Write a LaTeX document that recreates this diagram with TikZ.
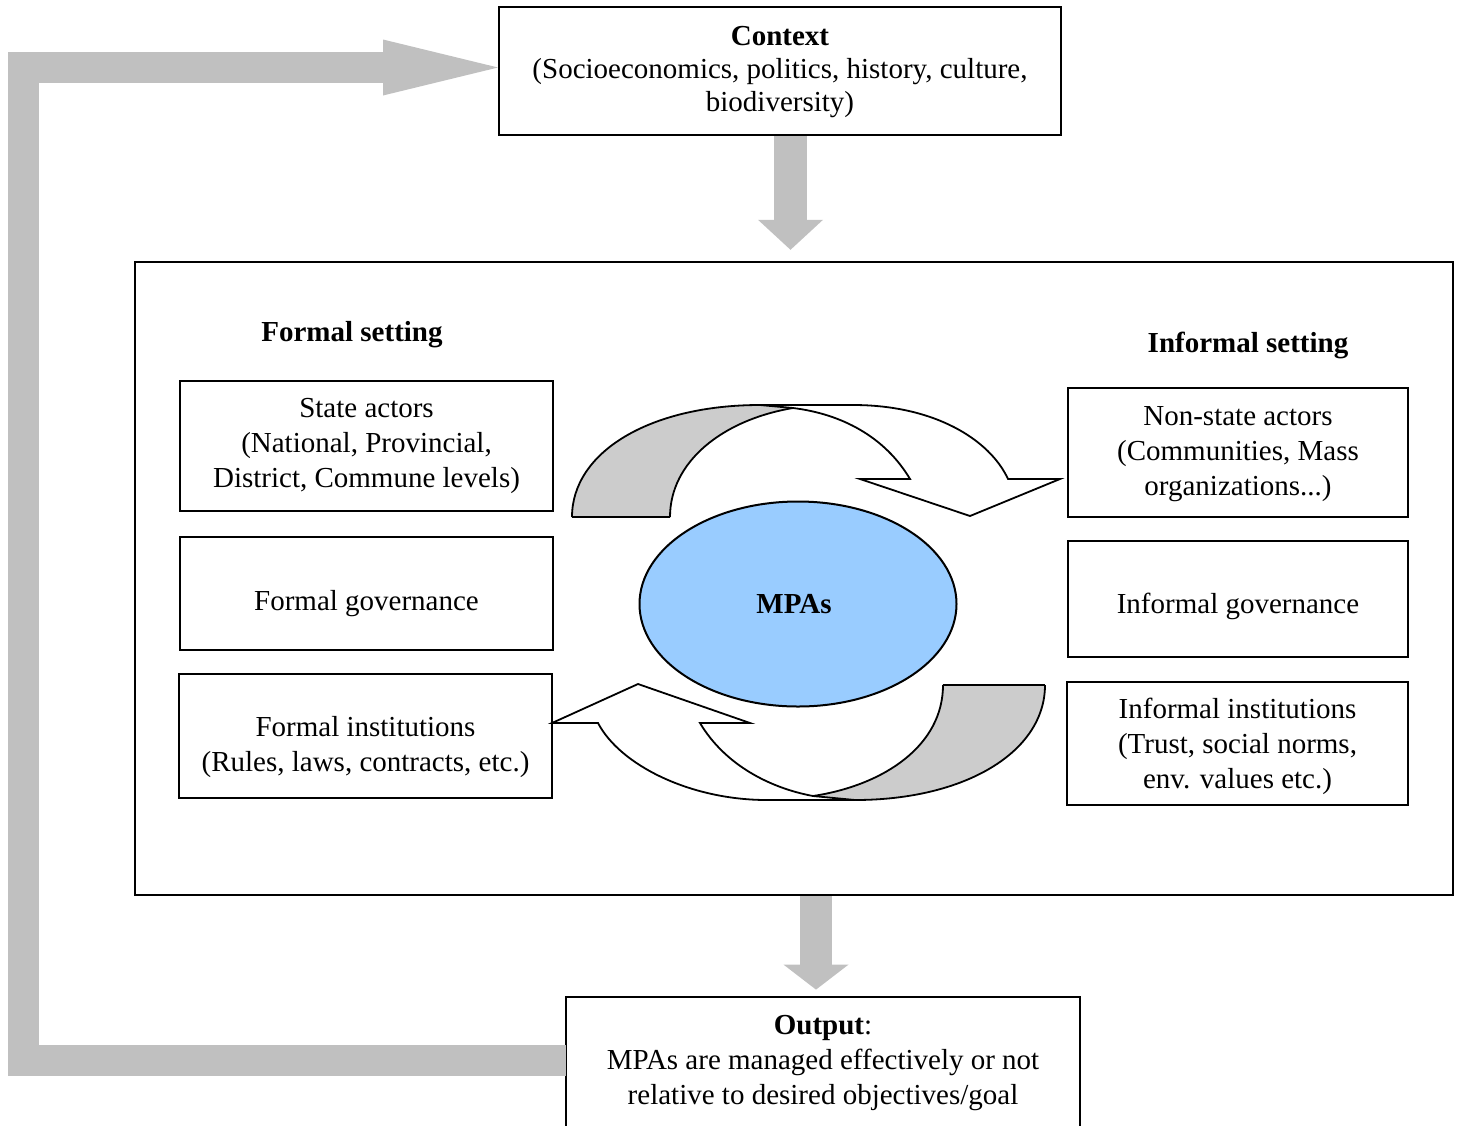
\documentclass[tikz,border=0pt]{standalone}
\usepackage{fontspec}
\setmainfont{Liberation Serif}
\usetikzlibrary{arrows.meta,calc,shapes.geometric}
\definecolor{blockgray}{RGB}{192,192,192}
\definecolor{bandgray}{RGB}{204,204,204}
\definecolor{mpablue}{RGB}{153,204,255}
\begin{document}
\begin{tikzpicture}[x=0.5pt,y=-0.5pt,
  every node/.style={font=\fontsize{14.5}{17.5}\selectfont, inner sep=0pt, align=center},
  box/.style={draw, line width=1pt},
  heading/.style={font=\fontsize{14.5}{17.5}\selectfont\bfseries},
  band/.style={draw, line width=0.9pt, line join=miter},
  blockarrow/.style={draw=blockgray, line join=miter, line cap=butt}]
\useasboundingbox (0,0) rectangle (1460,1125);
\clip (0,0) rectangle (1460,1125);

% outer frame of the governance setting
\node[box, line width=1.2pt, minimum width=659pt, minimum height=316.5pt] (main) at (794,578.5) {};

% context and output
\node[box, minimum width=281pt, minimum height=64pt] (context) at (780,71) {};
\node[font=\fontsize{14.5}{16.7}\selectfont] (context-t) at ([yshift=-0.5pt]context.center)
  {\textbf{Context}\\(Socioeconomics, politics, history, culture,\\biodiversity)};
\node[minimum width=257pt, minimum height=63pt] (output) at (823,1060) {};
\draw[line width=1pt] ([yshift=-20pt]output.south west) -- (output.north west)
  -- (output.north east) -- ([yshift=-20pt]output.south east);
\node (output-t) at ([yshift=-1.5pt]output.center)
  {\textbf{Output}:\\MPAs are managed effectively or not\\relative to desired objectives/goal};

% headings
\node[heading] (fset) at (352,334.5) {Formal setting};
\node[heading] (iset) at (1248,345) {Informal setting};

% formal side
\node[box, minimum width=186.5pt, minimum height=65pt] (state) at (366.5,446) {};
\node (state-t) at (state.center) {State actors\\(National, Provincial,\\District, Commune levels)};
\node[box, minimum width=186.5pt, minimum height=56.5pt] (fgov) at (366.5,593.5) {};
\node (fgov-t) at ([yshift=-5pt]fgov.center) {Formal governance};
\node[box, minimum width=186.5pt, minimum height=62pt] (finst) at (365.5,736) {};
\node (finst-t) at ([yshift=-5.5pt]finst.center) {Formal institutions\\(Rules, laws, contracts, etc.)};

% informal side
\node[box, minimum width=170pt, minimum height=64.5pt] (nonstate) at (1238,452.5) {};
\node (nonstate-t) at ([yshift=-1pt]nonstate.center) {Non-state actors\\(Communities, Mass\\organizations...)};
\node[box, minimum width=170pt, minimum height=58pt] (igov) at (1238,599) {};
\node (igov-t) at ([yshift=-3.5pt]igov.center) {Informal governance};
\node[box, minimum width=170.5pt, minimum height=61.5pt] (iinst) at (1237.5,743.5) {};
\node (iinst-t) at ([yshift=-1.5pt]iinst.center) {Informal institutions\\(Trust, social norms,\\env. values etc.)};

% central MPAs
\node[ellipse, draw, line width=1pt, fill=mpablue, minimum width=158.5pt,
  minimum height=102.5pt] (mpa) at (798,604) {};
\node[font=\fontsize{14.5}{17.5}\selectfont\bfseries] (mpa-t) at ([xshift=-2pt]mpa.center) {MPAs};

% upper curved arrow (formal -> informal)
\fill[bandgray] (572,517) .. controls (572,452) and (650,405) .. (760,405)
  -- (793,408) .. controls (722,420) and (670,462) .. (670,517) -- cycle;
\draw[band] (572,517) .. controls (572,452) and (650,405) .. (760,405);
\draw[band] (670,517) .. controls (670,462) and (722,420) .. (793,408);
\draw[band] (572,517) -- (670,517);
\draw[band, fill=white] (760,405) -- (853,405) .. controls (935,405) and (990,440) .. (1008,479)
  -- (1060,479) -- (970,516) -- (860,479) -- (910,479)
  .. controls (885,437) and (842,414) .. (793,408) -- cycle;

% lower curved arrow (informal -> formal)
\fill[bandgray] (1045,685) .. controls (1045,752) and (965,800) .. (855,800)
  -- (813,796) .. controls (885,785) and (943,745) .. (943,685) -- cycle;
\draw[band] (1045,685) .. controls (1045,752) and (965,800) .. (855,800);
\draw[band] (943,685) .. controls (943,745) and (885,785) .. (813,796);
\draw[band] (943,685) -- (1045,685);
\draw[band, fill=white] (855,800) -- (767,800) .. controls (690,800) and (620,765) .. (598,723)
  -- (552,723) -- (638,684) -- (750,723) -- (700,723)
  .. controls (725,765) and (770,788) .. (813,796) -- cycle;

% block arrows between the stages
\draw[blockarrow, line width=16.5pt, shorten >=5.5pt,
  -{Triangle[width=32.5pt,length=15pt,line width=0pt]}]
  ([xshift=5.25pt]context.south) -- ([xshift=5.25pt]context.south |- main.north);
\draw[blockarrow, line width=16pt, shorten >=3.5pt,
  -{Triangle[width=32.5pt,length=12.5pt,line width=0pt]}]
  ([xshift=11pt]main.south) -- ([xshift=11pt]main.south |- output.north);

% feedback loop from output back to context
\coordinate (fbtop) at ($(context.west)+(0,-3.5)$);
\draw[blockarrow, line width=15.5pt, -{Triangle[width=28pt,length=57.5pt,line width=0pt]}]
  (output.west) -- (output.west -| 23,0) |- (fbtop);
\end{tikzpicture}
\end{document}
